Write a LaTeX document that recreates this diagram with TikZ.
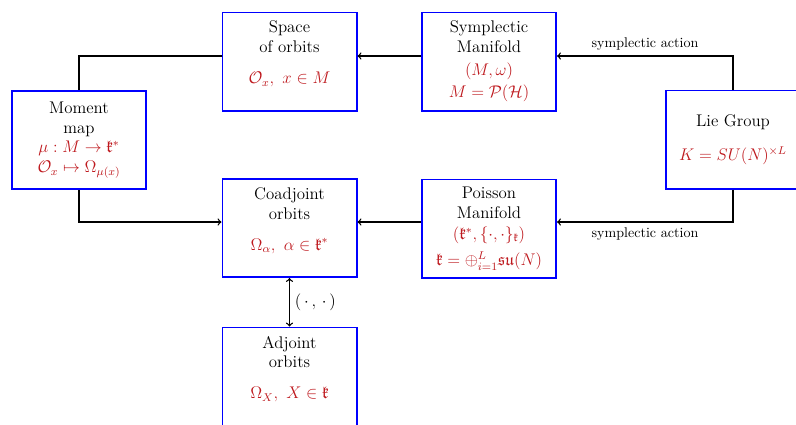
\documentclass[tikz,border=0pt]{standalone}
\usepackage{amsmath}
\usepackage{amssymb}
\usepackage{xcolor}
\usetikzlibrary{positioning}
\definecolor{mapred}{RGB}{190,25,30}
\newcommand{\redm}[1]{\textcolor{mapred}{$#1$}}

\begin{document}
\begin{tikzpicture}[
    x=0.025cm, y=-0.025cm,
    box/.style={rectangle, draw=blue, line width=1.4pt, minimum width=3.35cm, minimum height=2.45cm, align=center, font=\large},
    arrow/.style={->, line width=0.9pt},
    link/.style={line width=0.9pt}
]
    \useasboundingbox (0,0) rectangle (796,424);
    \coordinate (topline) at (0,56);
    \coordinate (botline) at (0,222);

    % Top row
    \node[box] (space) at (289.5,61.5) {Space\\of orbits\\[8pt]\redm{\mathcal{O}_x,\ x\in M}\\[-1pt]\mbox{}};
    \node[box] (sympl) at (489,61.5) {Symplectic\\Manifold\\[2pt]\redm{(M,\omega)}\\[2pt]\redm{M=\mathcal{P}(\mathcal{H})}};

    % Side boxes
    \node[box] (moment) at (79,140) {Moment\\map\\\redm{\mu: M\to\mathfrak{k}^*}\\\redm{\mathcal{O}_x\mapsto\Omega_{\mu(x)}}};
    \node[box] (lie) at (733,139.5) {Lie Group\\[10pt]\redm{K=SU(N)^{\times L}}};

    % Middle row
    \node[box] (coad) at (289.5,228) {Coadjoint\\orbits\\[8pt]\redm{\Omega_\alpha,\ \alpha\in\mathfrak{k}^*}\\[-1pt]\mbox{}};
    \node[box] (poisson) at (489,228.5) {Poisson\\Manifold\\[1pt]\redm{(\mathfrak{k}^*,\{\cdot,\cdot\}_{\mathfrak{k}})}\\[5pt]\redm{\mathfrak{k}=\oplus_{i=1}^{L}\mathfrak{su}(N)}};

    % Bottom
    \node[box] (adj) at (289.5,376.5) {Adjoint\\orbits\\[8pt]\redm{\Omega_X,\ X\in\mathfrak{k}}\\[-1pt]\mbox{}};

    % Arrows
    \draw[link] (moment.north) |- (space.west |- topline);
    \draw[arrow] (sympl.west |- topline) -- (space.east |- topline);
    \draw[arrow] (lie.north) |- (sympl.east |- topline) node[pos=0.75, above] {symplectic action};
    \draw[arrow] (moment.south) |- (coad.west |- botline);
    \draw[arrow] (poisson.west |- botline) -- (coad.east |- botline);
    \draw[arrow] (lie.south) |- (poisson.east |- botline) node[pos=0.75, below] {symplectic action};
    \draw[arrow, <->] (coad.south) -- (adj.north) node[midway, right, font=\large] {$(\,\cdot\,,\,\cdot\,)$};
\end{tikzpicture}
\end{document}
